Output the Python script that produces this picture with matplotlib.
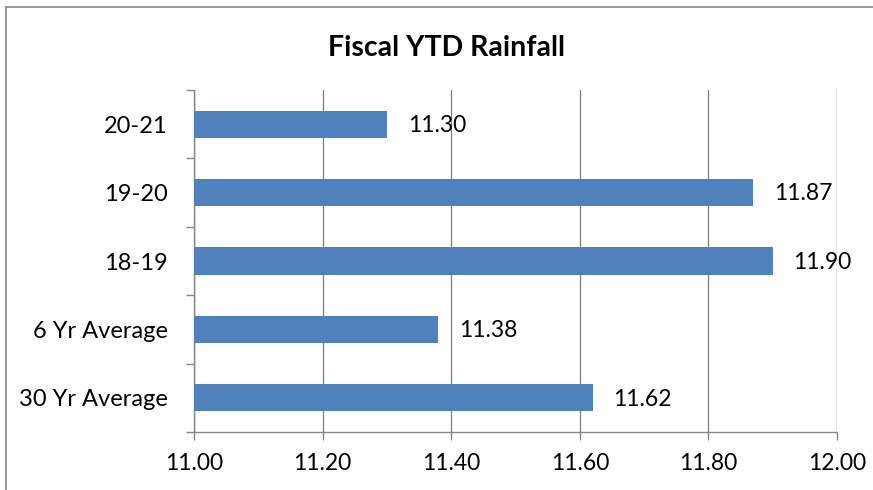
import numpy as np
import matplotlib.pyplot as plt
from matplotlib.patches import Rectangle

plt.rcParams['font.family'] = ['Lato', 'DejaVu Sans']

# data, top to bottom as in the chart
categories = ['20-21', '19-20', '18-19', '6 Yr Average', '30 Yr Average']
rainfall = [11.30, 11.87, 11.90, 11.38, 11.62]
x_ticks = [11.00, 11.20, 11.40, 11.60, 11.80, 12.00]

grey = '#868686'
blue = '#4F81BD'

fig = plt.figure(figsize=(8.73, 4.90), dpi=100)
ax = fig.add_axes([194/873, 1 - 432/490, (837 - 194)/873, (432 - 90)/490])

ypos = np.arange(len(categories))[::-1]
ax.barh(ypos, rainfall, height=0.4, color=blue, zorder=3)
for y, v in zip(ypos, rainfall):
    ax.annotate(f'{v:.2f}', (v, y), xytext=(15, -1), textcoords='offset points',
                ha='left', va='center', fontsize=16.5, color='black', zorder=4)

ax.set_xlim(11.0, 12.0)
ax.set_ylim(-0.5, len(categories) - 0.5)
ax.set_xticks(x_ticks)
ax.set_xticklabels([f'{t:.2f}' for t in x_ticks], fontsize=16.5)
ax.set_yticks(ypos)
ax.set_yticklabels(categories, fontsize=17)
ax.set_yticks(np.arange(-0.5, len(categories)), minor=True)

ax.tick_params(axis='y', which='major', length=0, pad=19)
ax.tick_params(axis='y', which='minor', length=6, width=1, color=grey, direction='out')
ax.tick_params(axis='x', length=6, width=1, color=grey, direction='out', pad=9)

ax.grid(axis='x', color=grey, linewidth=1, zorder=0)
for s in ['top', 'right']:
    ax.spines[s].set_visible(False)
for s in ['left', 'bottom']:
    ax.spines[s].set_color(grey)
    ax.spines[s].set_linewidth(1)

fig.text(447/873, 1 - 48/490, 'Fiscal YTD Rainfall', ha='center', va='center',
         fontsize=20.5, fontweight='bold')

fig.patches.append(Rectangle((6/873, -0.1), 1.2, 1.1 - 7/490,
                             transform=fig.transFigure, fill=False,
                             edgecolor=grey, linewidth=1.2))

fig.savefig('out.png', dpi=100)
